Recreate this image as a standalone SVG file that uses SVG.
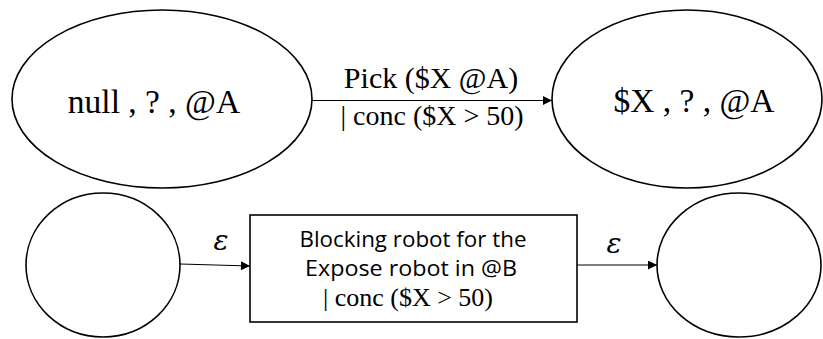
<svg xmlns="http://www.w3.org/2000/svg" width="823" height="339" viewBox="0 0 823 339">
<defs>
<marker id="ah" viewBox="0 0 10 10" refX="10" refY="5" markerWidth="10" markerHeight="9" markerUnits="userSpaceOnUse" orient="auto">
<path d="M0,0 L10,5 L0,10 Z" fill="#000"/>
</marker>
<style>
.sh{fill:#fff;stroke:#000;stroke-width:1.6}
.ed{stroke:#000;stroke-width:1.2;fill:none;marker-end:url(#ah)}
.tm{font-family:"Liberation Serif","Times New Roman",serif;fill:#000;text-anchor:middle}
.sa{font-family:"Open Sans","Liberation Sans",sans-serif;fill:#000;text-anchor:middle}
.ep{font-family:"DejaVu Serif",serif;font-style:italic;fill:#000;text-anchor:middle}
</style>
</defs>
<rect width="823" height="339" fill="#fff"/>
<g id="n1"><ellipse class="sh" cx="162" cy="99" rx="150" ry="89"/><text class="tm" x="154" y="113" font-size="33.5">null , ? , @A</text></g>
<g id="n2"><ellipse class="sh" cx="687" cy="99" rx="135" ry="89"/><text class="tm" x="694" y="112" font-size="33.5">$X , ? , @A</text></g>
<g id="n3"><ellipse class="sh" cx="103" cy="265" rx="77" ry="72"/></g>
<g id="n4"><rect class="sh" x="250" y="215" width="327" height="107"/>
<text class="sa" x="413" y="247" font-size="21.5" textLength="227" lengthAdjust="spacingAndGlyphs">Blocking robot for the</text>
<text class="sa" x="411" y="276" font-size="21.5" textLength="212" lengthAdjust="spacingAndGlyphs">Expose robot in @B</text>
<text class="tm" x="408" y="306" font-size="26">| conc ($X &gt; 50)</text></g>
<g id="n5"><ellipse class="sh" cx="739" cy="265" rx="82" ry="72"/></g>
<g id="edges">
<line class="ed" x1="312" y1="100.5" x2="552" y2="100.5"/>
<line class="ed" x1="180" y1="264" x2="250" y2="266"/>
<line class="ed" x1="577" y1="265" x2="657" y2="265"/>
</g>
<g id="labels">
<text class="tm" x="431" y="88" font-size="30">Pick ($X @A)</text>
<text class="tm" x="432" y="125" font-size="28">| conc ($X &gt; 50)</text>
<text class="ep" x="221" y="250" font-size="28">ε</text>
<text class="ep" x="614" y="253" font-size="28">ε</text>
</g>
</svg>
